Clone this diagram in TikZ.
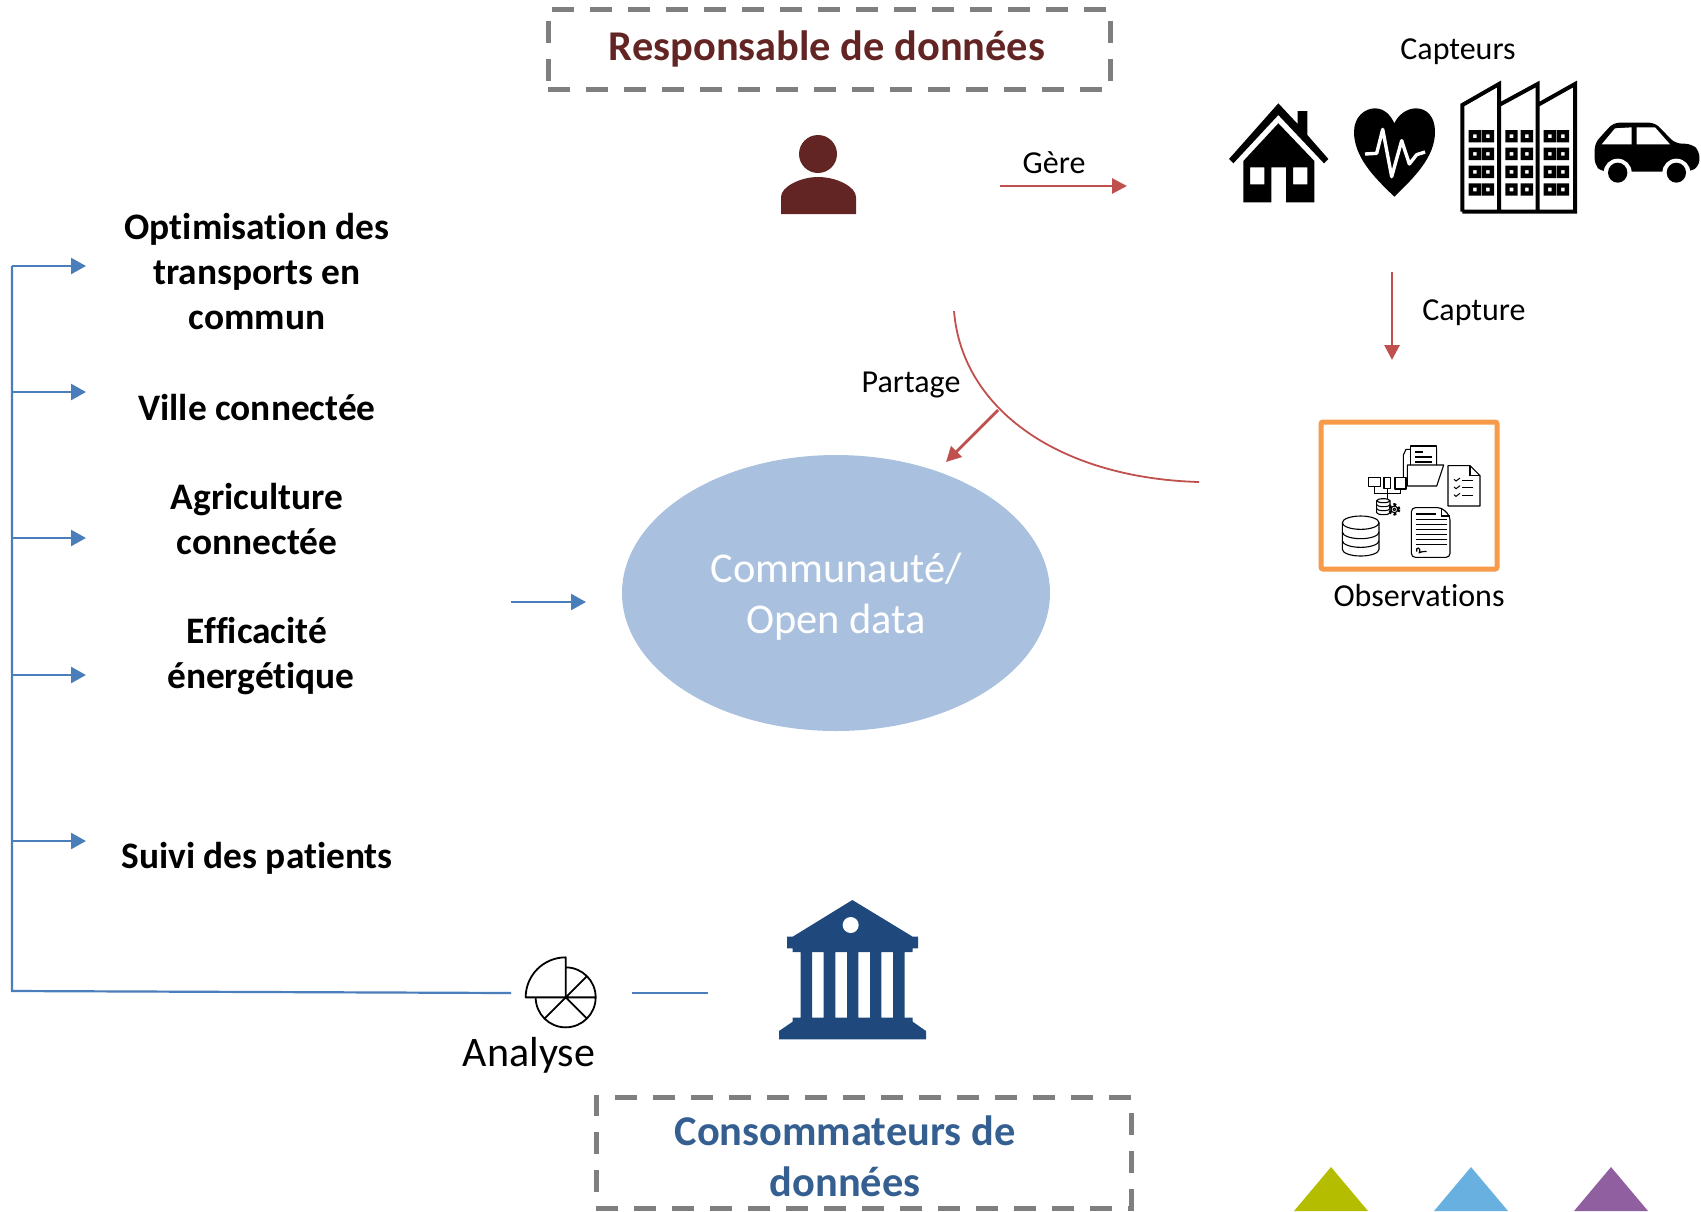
\documentclass[tikz,border=0pt]{standalone}
\usepackage{fontspec}
\setmainfont{Carlito}[Ligatures=CommonOff]
\usetikzlibrary{arrows.meta}
\definecolor{darkred}{HTML}{632523}
\definecolor{arrowred}{HTML}{C0504D}
\definecolor{linkblue}{HTML}{4A7EBB}
\definecolor{navy}{HTML}{1F497D}
\definecolor{consblue}{HTML}{355F91}
\definecolor{ellfill}{HTML}{A9C1DF}
\definecolor{orangebox}{HTML}{F79A4A}
\definecolor{dashgrey}{HTML}{7F7F7F}
\definecolor{triA}{HTML}{B5BD00}
\definecolor{triB}{HTML}{68B0E0}
\definecolor{triC}{HTML}{8F5FA0}
\tikzset{
  x=0.5pt,y=-0.5pt,
  dashbox/.style={draw=dashgrey,line width=2.5pt,dash pattern=on 11pt off 8pt},
  title/.style={font=\fontsize{21.2}{25.5}\selectfont\bfseries,align=center,inner sep=0pt},
  usecase/.style={font=\fontsize{18.7}{22.5}\selectfont\bfseries,align=center,inner sep=0pt},
  caption/.style={font=\fontsize{16}{19}\selectfont,align=center,inner sep=0pt},
  redarrow/.style={draw=arrowred,line width=1.4pt,-{Triangle[length=7.5pt,width=7.5pt]}},
  bluearrow/.style={draw=linkblue,line width=1.2pt,-{Triangle[length=7.5pt,width=8pt]}},
  blueline/.style={draw=linkblue,line width=1.1pt},
  zoomA/.style={shift={(1200,60)},x=0.16667pt,y=-0.16667pt},
  zoomB/.style={shift={(1300,410)},x=0.16667pt,y=-0.16667pt},
  zoomC/.style={shift={(440,880)},x=0.16667pt,y=-0.16667pt},
  icon/.style={draw=black,line width=0.55pt,fill=white,line join=round},
}
\begin{document}
\begin{tikzpicture}
\useasboundingbox (0,0) rectangle (1701,1211);
% ---- boxes
\draw[dashbox] (548,89) -- (1110,89) -- (1110,9) -- (548,9) -- cycle;
\draw[dashbox] (596,1208) -- (1131,1208) -- (1131,1097) -- (596,1097) -- cycle;
\node[title,text=darkred] (resp) at (827,49) {Responsable de données};
\node[title,text=consblue] (cons) at (845,1156) {Consommateurs de\\données};
% ---- person
\fill[darkred] (818,154) circle (19);
\fill[darkred] (781,214) -- (781,197) .. controls (781,187) and (800,177) .. (818,177) .. controls (837,177) and (856,187) .. (856,197) -- (856,214) -- cycle;
% ---- Gère
\coordinate (gA) at (1000,186);
\coordinate (gB) at (1127,186);
\draw[redarrow] (gA) -- (gB);
\node[caption] (gere) at (1054,163) {Gère};
\node[caption] (capteurs) at (1458,52) {Capteurs};
% ---- house
\begin{scope}[zoomA]
\fill (87,297) -- (235,130) -- (293,192) -- (293,153) -- (322,153) -- (322,225) -- (385,297) -- (372,310) -- (235,165) -- (100,310) -- cycle;
\fill[even odd rule] (130,303) -- (235,190) -- (343,303) -- (343,427) -- (258,427) -- (258,322) -- (214,322) -- (214,427) -- (130,427) -- cycle
 (150,322) rectangle (193,373) (279,322) rectangle (322,373);
% heart
\fill (583,410) .. controls (520,350) and (462,290) .. (462,215) .. controls (462,170) and (495,145) .. (525,145) .. controls (552,145) and (572,165) .. (583,190) .. controls (594,165) and (620,145) .. (648,145) .. controls (680,145) and (705,170) .. (705,215) .. controls (705,290) and (645,350) .. (583,410) -- cycle;
\draw[white,line width=1.7pt,line join=round] (495,282) -- (530,280) -- (548,208) -- (575,350) -- (605,242) -- (628,312) -- (650,284) -- (675,276);
% factory
\draw[line width=2pt,miter limit=3] (787,455) -- (787,135) -- (897,72) -- (897,455) (897,135) -- (1013,72) -- (1013,455) (1013,135) -- (1125,72) -- (1125,455) -- (787,455);
\foreach \xx in {806,845,916,962,1031,1070}
 \foreach \yy in {210,263,317,370}{
  \fill[even odd rule] (\xx,\yy) rectangle ++(37,37) (\xx+13,\yy+13) rectangle ++(11,11);
 }
% car
\fill[rounded corners=3pt] (1184,250) -- (1240,188) -- (1365,188) -- (1425,250) -- (1475,252) -- (1498,272) -- (1498,318) -- (1470,335) -- (1205,335) -- (1184,315) -- cycle;
\fill[white] (1205,253) -- (1245,205) -- (1295,202) -- (1295,253) -- cycle;
\fill[white] (1310,202) -- (1365,202) -- (1410,253) -- (1310,253) -- cycle;
\fill[white] (1253,338) circle (42);
\fill[white] (1429,338) circle (42);
\fill (1253,338) ellipse (29 and 30);
\fill (1429,338) ellipse (29 and 30);
\end{scope}
% ---- Capture
\coordinate (cA) at (1392,272);
\coordinate (cB) at (1392,360);
\draw[redarrow] (cA) -- (cB);
\node[caption] (capture) at (1474,313) {Capture};
% ---- Observations
\draw[orangebox,line width=2.5pt,rounded corners=1pt] (1321,422) rectangle (1497,569);
\node[caption] (obs) at (1419,595) {Observations};
\begin{scope}[zoomB]
% folder
\draw[icon] (310,225) -- (310,135) -- (318,118) -- (410,118) -- (410,165);
\draw[icon] (332,108) rectangle (410,170);
\draw[line width=0.55pt] (345,126) -- (368,126) (345,141) -- (396,141) (345,156) -- (396,156);
\draw[icon] (322,228) -- (322,165) -- (431,165) -- (410,228) -- cycle;
% check list
\draw[icon] (444,167) -- (510,167) -- (540,197) -- (540,288) -- (444,288) -- cycle;
\draw[line width=0.55pt] (510,167) -- (510,197) -- (540,197);
\foreach \yy in {210,233,256}{
 \draw[line width=0.5pt] (462,\yy-2) -- (468,\yy+3) -- (480,\yy-6);
 \draw[line width=0.5pt] (486,\yy) -- (519,\yy);
}
% devices
\draw[line width=0.5pt] (224,230) -- (224,250) -- (302,250) -- (302,237) (262,236) -- (262,268);
\draw[icon] (206,203) rectangle (242,230);
\draw[icon] (252,203) rectangle (272,236);
\draw[icon] (285,203) rectangle (318,237);
% small database
\draw[icon] (230,272) -- (230,308) arc[start angle=180,end angle=0,x radius=20,y radius=6] -- (270,272);
\draw[icon] (250,272) ellipse (20 and 6);
\draw[line width=0.5pt] (230,284) arc[start angle=180,end angle=0,x radius=20,y radius=6] (230,296) arc[start angle=180,end angle=0,x radius=20,y radius=6];
% gear
\draw[line width=1.8pt,dash pattern=on 1.2pt off 1.2pt] (283,298) circle (13);
\draw[icon] (283,298) circle (10);
\draw[icon] (283,298) circle (4);
% large database
\draw[icon] (127,338) -- (127,418) arc[start angle=180,end angle=0,x radius=55,y radius=20] -- (237,338);
\draw[icon] (182,338) ellipse (55 and 20);
\draw[line width=0.55pt] (127,366) arc[start angle=180,end angle=0,x radius=55,y radius=20] (127,392) arc[start angle=180,end angle=0,x radius=55,y radius=20];
% document
\draw[icon,rounded corners=2pt] (334,293) -- (425,293) -- (450,318) -- (450,442) -- (334,442) -- cycle;
\draw[line width=0.55pt] (425,293) -- (425,318) -- (450,318);
\foreach \yy in {312}{\draw[line width=0.6pt] (347,\yy) -- (408,\yy);}
\foreach \yy in {328,343,358,373,388,403}{\draw[line width=0.6pt] (347,\yy) -- (440,\yy);}
\draw[line width=0.6pt] (350,425) .. controls (345,410) and (365,410) .. (358,428) .. controls (362,425) and (368,425) .. (380,424);
\end{scope}
% ---- Partage
\coordinate (curveA) at (954,311);
\coordinate (curveB) at (1199,482);
\draw[arrowred,line width=0.9pt] (curveA) .. controls (962,410) and (1060,478) .. (curveB);
\coordinate (pA) at (998,410);
\coordinate (pB) at (946,462);
\draw[redarrow] (pA) -- (pB);
\node[caption] (partage) at (911,385) {Partage};
% ---- ellipse
\fill[ellfill] (836,593) ellipse (214 and 138);
\node[font=\fontsize{21.2}{25.5}\selectfont,text=white,align=center,inner sep=0pt] (comm) at (836,597) {Communauté/\\Open data};
% ---- left
\coordinate (trunkTop) at (12,266);
\coordinate (trunkBot) at (12,991);
\coordinate (anaL) at (511,993);
\coordinate (anaR) at (632,993);
\coordinate (bankL) at (708,993);
\draw[blueline] (trunkTop) -- (trunkBot) -- (anaL);
\draw[blueline] (anaR) -- (bankL);
\foreach \yy/\nm in {266/a,392/b,538/c,675/d,841/e}{
  \coordinate (s\nm) at (12,\yy);
  \coordinate (t\nm) at (86,\yy);
  \draw[bluearrow] (s\nm) -- (t\nm);
}
\coordinate (mA) at (511,602);
\coordinate (mB) at (586,602);
\draw[bluearrow] (mA) -- (mB);
\node[usecase] (u1) at (257,272) {Optimisation des\\transports en\\commun};
\node[usecase] (u2) at (257,408) {Ville connectée};
\node[usecase] (u3) at (257,519) {Agriculture\\connectée};
\node[usecase] (u4a) at (257,631) {Efficacité};
\node[usecase] (u4b) at (261,679) {énergétique};
\node[usecase] (u5) at (257,858) {Suivi des patients};
% ---- pie and bank
\begin{scope}[zoomC]
\draw[line width=0.9pt,line join=round] (377,352) -- (257,352) arc[start angle=180,end angle=270,radius=120] -- cycle;
\draw[line width=0.9pt,line join=round] (377,262) arc[start angle=270,end angle=540,radius=90] (377,352) -- (467,352) (377,352) -- (441,288) (377,352) -- (441,416) (377,352) -- (313,416);
\fill[navy,even odd rule] (1237,60) -- (1418,170) -- (1434,170) -- (1434,205) -- (1418,205) -- (1418,216) -- (1394,216) -- (1394,413) -- (1418,413) -- (1418,425) -- (1458,453) -- (1458,478) -- (1017,478) -- (1017,453) -- (1058,425) -- (1058,413) -- (1082,413) -- (1082,216) -- (1058,216) -- (1058,205) -- (1041,205) -- (1041,170) -- (1058,170) -- cycle
 (1116,216) rectangle (1151,413) (1186,216) rectangle (1221,413) (1255,216) rectangle (1290,413) (1324,216) rectangle (1359,413);
\fill[white] (1232,135) circle (24);
\end{scope}
\node[font=\fontsize{21}{24}\selectfont,inner sep=0pt] (analyse) at (529,1055) {Analyse};
% ---- triangles
\fill[triA] (1331,1167) -- (1368,1211) -- (1294,1211) -- cycle;
\fill[triB] (1471,1167) -- (1508,1211) -- (1434,1211) -- cycle;
\fill[triC] (1611,1167) -- (1648,1211) -- (1574,1211) -- cycle;
\end{tikzpicture}
\end{document}
